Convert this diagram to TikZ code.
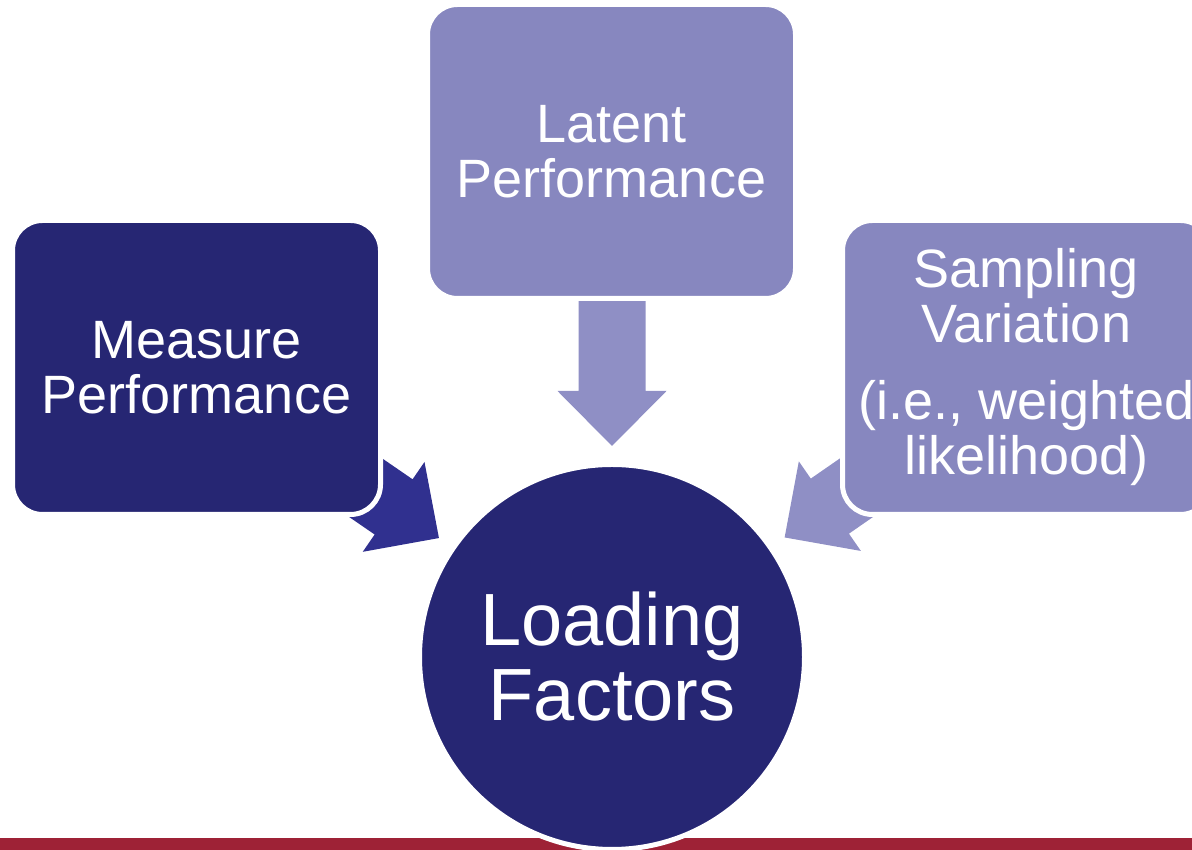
\documentclass[tikz,border=0pt]{standalone}
\usepackage{fontspec}
\setmainfont{Liberation Sans}
\usetikzlibrary{calc}

\definecolor{navy}{HTML}{262673}
\definecolor{navyarrow}{HTML}{30308F}
\definecolor{lavender}{HTML}{8787BF}
\definecolor{lavarrow}{HTML}{8F8FC5}
\definecolor{barred}{HTML}{9E2236}

% block arrow from tail #1 to tip #2
\newcommand{\blockarrow}[3]{%
  \coordinate (hb) at ($(#2)!55pt!(#1)$);
  \fill[#3] ($(#1)!33.5pt!90:(#2)$) -- ($(hb)!33.5pt!90:(#2)$) -- ($(hb)!54.5pt!90:(#2)$) -- (#2)
    -- ($(hb)!54.5pt!-90:(#2)$) -- ($(hb)!33.5pt!-90:(#2)$) -- ($(#1)!33.5pt!-90:(#2)$) -- cycle;}

\begin{document}
\begin{tikzpicture}[x=1pt,y=1pt,
	box/.style={rectangle,rounded corners=30pt,draw=white,line width=5pt,minimum width=368pt,minimum height=294pt,
		inner sep=0pt,text=white,align=center,font=\fontsize{54}{55}\selectfont}]
	\useasboundingbox (0,0) rectangle (1192,850);
	\clip (0,0) rectangle (1192,850);
	\fill[barred] (0,0) rectangle (1192,12);
	
	\coordinate (c) at (612,193);
	\coordinate (mtail) at ($(c)+(145.5:345)$);
	\coordinate (mtip) at ($(c)+(145.5:210)$);
	\coordinate (ltail) at ($(c)+(90:400)$);
	\coordinate (ltip) at ($(c)+(90:211)$);
	\coordinate (stail) at ($(c)+(34.7:345)$);
	\coordinate (stip) at ($(c)+(34.7:210)$);
	
	\blockarrow{mtail}{mtip}{navyarrow}
	\blockarrow{ltail}{ltip}{lavarrow}
	\blockarrow{stail}{stip}{lavarrow}
	
	\node[box,fill=navy] (measure) at (196.5,482.5) {Measure\\Performance};
	\node[box,fill=lavender] (latent) at (611.5,698.5) {Latent\\Performance};
	\node[box,fill=lavender] (sampling) at (1026.5,482.5) {Sampling\\Variation\\[22pt](i.e., weighted\\likelihood)};
	\node[circle,fill=navy,draw=white,line width=5pt,minimum size=385pt,inner sep=0pt,
		text=white,align=center,font=\fontsize{74}{75}\selectfont] (load) at (c) {Loading\\Factors};
\end{tikzpicture}
\end{document}
